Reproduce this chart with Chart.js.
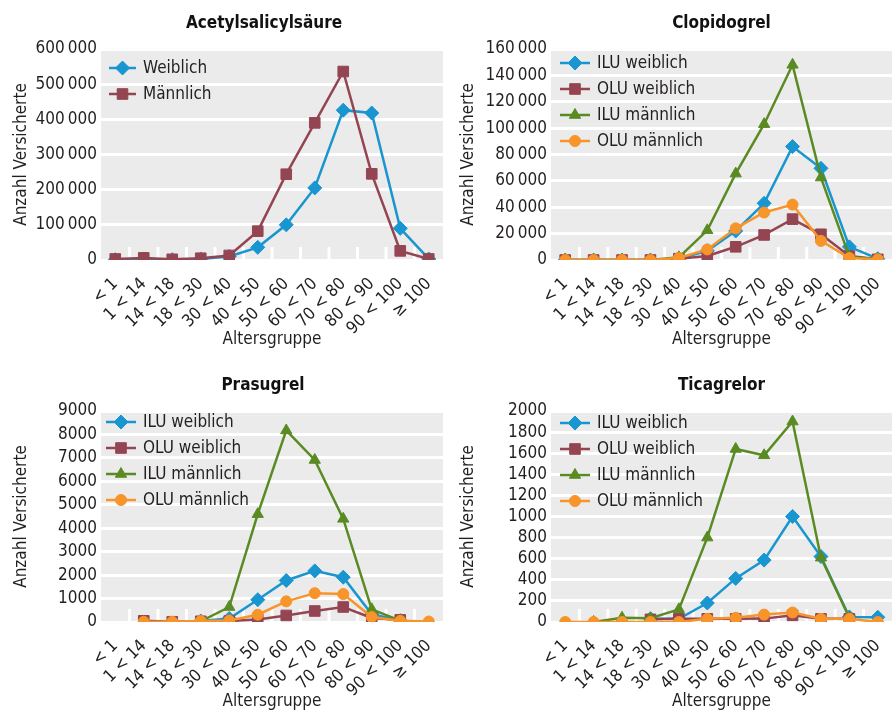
<!DOCTYPE html>
<html>
<head>
<meta charset="utf-8">
<script src="https://cdn.jsdelivr.net/npm/chart.js@4.4.0/dist/chart.umd.min.js"></script>
<style>
  html, body { margin: 0; padding: 0; background: #fff; overflow: hidden; }
  canvas { position: absolute; }
</style>
</head>
<body>
<canvas id="asa" width="447" height="360" style="left:0;top:0"></canvas>
<canvas id="clopi" width="447" height="360" style="left:447px;top:0"></canvas>
<canvas id="pras" width="447" height="360" style="left:0;top:362px"></canvas>
<canvas id="tica" width="447" height="360" style="left:447px;top:362px"></canvas>
<script>
// Altersgruppen (x-Achse)
const altersgruppen = ['< 1', '1 < 14', '14 < 18', '18 < 30', '30 < 40', '40 < 50', '50 < 60', '60 < 70', '70 < 80', '80 < 90', '90 < 100', '≥ 100'];

// Acetylsalicylsäure
const asaWeiblich = [1000, 3000, 1000, 3000, 10000, 36000, 100000, 205000, 426000, 418000, 90000, 3000];
const asaMaennlich = [3000, 6000, 2000, 5000, 13000, 82000, 244000, 390000, 536000, 245000, 26000, 3000];

// Clopidogrel
const clopiIluW = [0, 0, 0, 0, 1000, 7000, 22000, 43000, 86000, 69500, 10000, 1000];
const clopiOluW = [0, 0, 0, 0, 1000, 3000, 10000, 19000, 31000, 19500, 3000, 500];
const clopiIluM = [0, 0, 0, 0, 2000, 22500, 65500, 103000, 148000, 62500, 2500, 500];
const clopiOluM = [0, 0, 0, 0, 1500, 8000, 24000, 36000, 42000, 14500, 1500, 500];

// Prasugrel
const prasIluW = [null, null, null, 40, 150, 950, 1770, 2180, 1910, 330, 60, null];
const prasOluW = [null, 50, 10, 30, 40, 110, 280, 470, 640, 170, 90, null];
const prasIluM = [null, null, null, 30, 640, 4600, 8170, 6910, 4400, 540, 60, null];
const prasOluM = [null, 10, 10, 40, 60, 310, 880, 1230, 1190, 210, 50, 20];

// Ticagrelor
const ticaIluW = [null, null, null, 30, 30, 180, 413, 587, 1000, 620, 48, 45];
const ticaOluW = [null, null, null, 25, 30, 30, 30, 32, 63, 30, 30, null];
const ticaIluM = [null, 0, 40, 35, 120, 800, 1640, 1580, 1900, 610, 40, null];
const ticaOluM = [0, 0, 0, 0, 0, 30, 40, 70, 90, 30, 30, 0];

const BLUE = '#1996d0';
const MAROON = '#944552';
const GREEN = '#5a8b23';
const ORANGE = '#f7942a';
const TEXT = '#231f20';
const FONT = '"DejaVu Sans Condensed", "DejaVu Sans", sans-serif';

const markers = {
  rectRot: 7,
  rect: 7.5,
  triangle: 6.5,
  circle: 5.5
};

Chart.defaults.font.family = FONT;
Chart.defaults.font.size = 17;
Chart.defaults.color = TEXT;

// graue Fläche hinter dem Diagramm
const bgPlugin = {
  id: 'bg',
  beforeDraw(chart) {
    const a = chart.chartArea, ctx = chart.ctx;
    ctx.save();
    ctx.fillStyle = '#ebebeb';
    ctx.fillRect(a.left, a.top, a.right - a.left, a.bottom - a.top);
    ctx.restore();
  }
};

// kurze weiße Striche zwischen den Kategorien
const tickPlugin = {
  id: 'catTicks',
  beforeDatasetsDraw(chart) {
    const x = chart.scales.x, a = chart.chartArea, ctx = chart.ctx;
    ctx.save();
    ctx.strokeStyle = '#fff';
    ctx.lineWidth = 3;
    for (let i = 1; i < altersgruppen.length; i++) {
      const px = (x.getPixelForTick(i - 1) + x.getPixelForTick(i)) / 2;
      ctx.beginPath();
      ctx.moveTo(px, a.bottom);
      ctx.lineTo(px, a.bottom - 13);
      ctx.stroke();
    }
    ctx.restore();
  }
};

// Überschrift über der Diagrammfläche
const titlePlugin = {
  id: 'panelTitle',
  afterDraw(chart, args, opts) {
    const a = chart.chartArea, ctx = chart.ctx;
    ctx.save();
    ctx.font = 'bold 17px ' + FONT;
    ctx.fillStyle = '#111';
    ctx.textAlign = 'center';
    ctx.textBaseline = 'middle';
    ctx.fillText(opts.text, (a.left + a.right) / 2 + opts.dx, 24);
    ctx.restore();
  }
};

// Legende innerhalb der Diagrammfläche (Linie + Marker + Text)
const legendPlugin = {
  id: 'innerLegend',
  afterDatasetsDraw(chart, args, opts) {
    const a = chart.chartArea, ctx = chart.ctx;
    chart.data.datasets.forEach((d, i) => {
      const y = a.top + opts.dy + i * 26;
      const x0 = a.left + opts.dx;
      ctx.save();
      ctx.strokeStyle = d.borderColor;
      ctx.lineWidth = 2.5;
      ctx.beginPath();
      ctx.moveTo(x0, y);
      ctx.lineTo(x0 + opts.len, y);
      ctx.stroke();
      ctx.fillStyle = d.borderColor;
      ctx.lineWidth = 1;
      Chart.helpers.drawPoint(ctx, { pointStyle: d.pointStyle, radius: d.pointRadius, borderWidth: 1, rotation: 0 }, x0 + opts.len / 2, y);
      ctx.fillStyle = TEXT;
      ctx.font = '17px ' + FONT;
      ctx.textBaseline = 'middle';
      ctx.textAlign = 'left';
      ctx.fillText(d.label, a.left + opts.textX, y + 1);
      ctx.restore();
    });
  }
};

function series(label, data, color, style) {
  return {
    label: label,
    data: data,
    borderColor: color,
    backgroundColor: color,
    borderWidth: 2.5,
    pointStyle: style,
    pointRadius: markers[style],
    pointBorderWidth: 1,
    tension: 0
  };
}

function fmt(v) {
  const s = String(v);
  return v >= 10000 ? s.replace(/\B(?=(\d{3})+(?!\d))/g, '\u2009') : s;
}

function makeChart(id, title, datasets, yMax, yStep, leftW, padRight, leg, titleDx) {
  const n = datasets.length;
  datasets.forEach((d, i) => { d.order = n - i; });
  return new Chart(document.getElementById(id), {
    type: 'line',
    data: { labels: altersgruppen, datasets: datasets },
    plugins: [bgPlugin, tickPlugin, legendPlugin, titlePlugin],
    options: {
      responsive: false,
      animation: false,
      devicePixelRatio: 1,
      layout: { autoPadding: false, padding: { left: 0, right: padRight, top: 49, bottom: 0 } },
      plugins: {
        title: { display: false },
        legend: { display: false },
        panelTitle: { text: title, dx: titleDx },
        innerLegend: leg,
        tooltip: { enabled: false }
      },
      scales: {
        x: {
          offset: true,
          grid: { display: false },
          border: { display: false },
          ticks: {
            autoSkip: false,
            maxRotation: 45,
            minRotation: 45,
            padding: 6
          },
          title: {
            display: true,
            text: 'Altersgruppe',
            padding: { top: 0, bottom: 10 }
          },
          afterFit(s) {
            s.height = 100;
            s.paddingLeft = 0;
            s.paddingRight = 0;
          }
        },
        y: {
          min: 0,
          max: yMax,
          grid: { color: '#ffffff', lineWidth: 3, drawTicks: false },
          border: { display: false },
          ticks: {
            stepSize: yStep,
            autoSkip: false,
            padding: 4,
            callback: (v) => fmt(v)
          },
          title: {
            display: true,
            text: 'Anzahl Versicherte',
            padding: { top: 11, bottom: 0 }
          },
          afterFit(s) { s.width = leftW; }
        }
      }
    }
  });
}

makeChart('asa', 'Acetylsalicylsäure', [
  series('Weiblich', asaWeiblich, BLUE, 'rectRot'),
  series('Männlich', asaMaennlich, MAROON, 'rect')
], 600000, 100000, 101, 4, { dx: 8, dy: 19, len: 27, textX: 42 }, -8);

makeChart('clopi', 'Clopidogrel', [
  series('ILU weiblich', clopiIluW, BLUE, 'rectRot'),
  series('OLU weiblich', clopiOluW, MAROON, 'rect'),
  series('ILU männlich', clopiIluM, GREEN, 'triangle'),
  series('OLU männlich', clopiOluM, ORANGE, 'circle')
], 160000, 20000, 104, 2, { dx: 9, dy: 14, len: 30, textX: 46 }, 0);

makeChart('pras', 'Prasugrel', [
  series('ILU weiblich', prasIluW, BLUE, 'rectRot'),
  series('OLU weiblich', prasOluW, MAROON, 'rect'),
  series('ILU männlich', prasIluM, GREEN, 'triangle'),
  series('OLU männlich', prasOluM, ORANGE, 'circle')
], 9000, 1000, 101, 4, { dx: 5, dy: 11, len: 30, textX: 42 }, -9);

makeChart('tica', 'Ticagrelor', [
  series('ILU weiblich', ticaIluW, BLUE, 'rectRot'),
  series('OLU weiblich', ticaOluW, MAROON, 'rect'),
  series('ILU männlich', ticaIluM, GREEN, 'triangle'),
  series('OLU männlich', ticaOluM, ORANGE, 'circle')
], 2000, 200, 104, 2, { dx: 9, dy: 12, len: 30, textX: 46 }, 0);
</script>
</body>
</html>
